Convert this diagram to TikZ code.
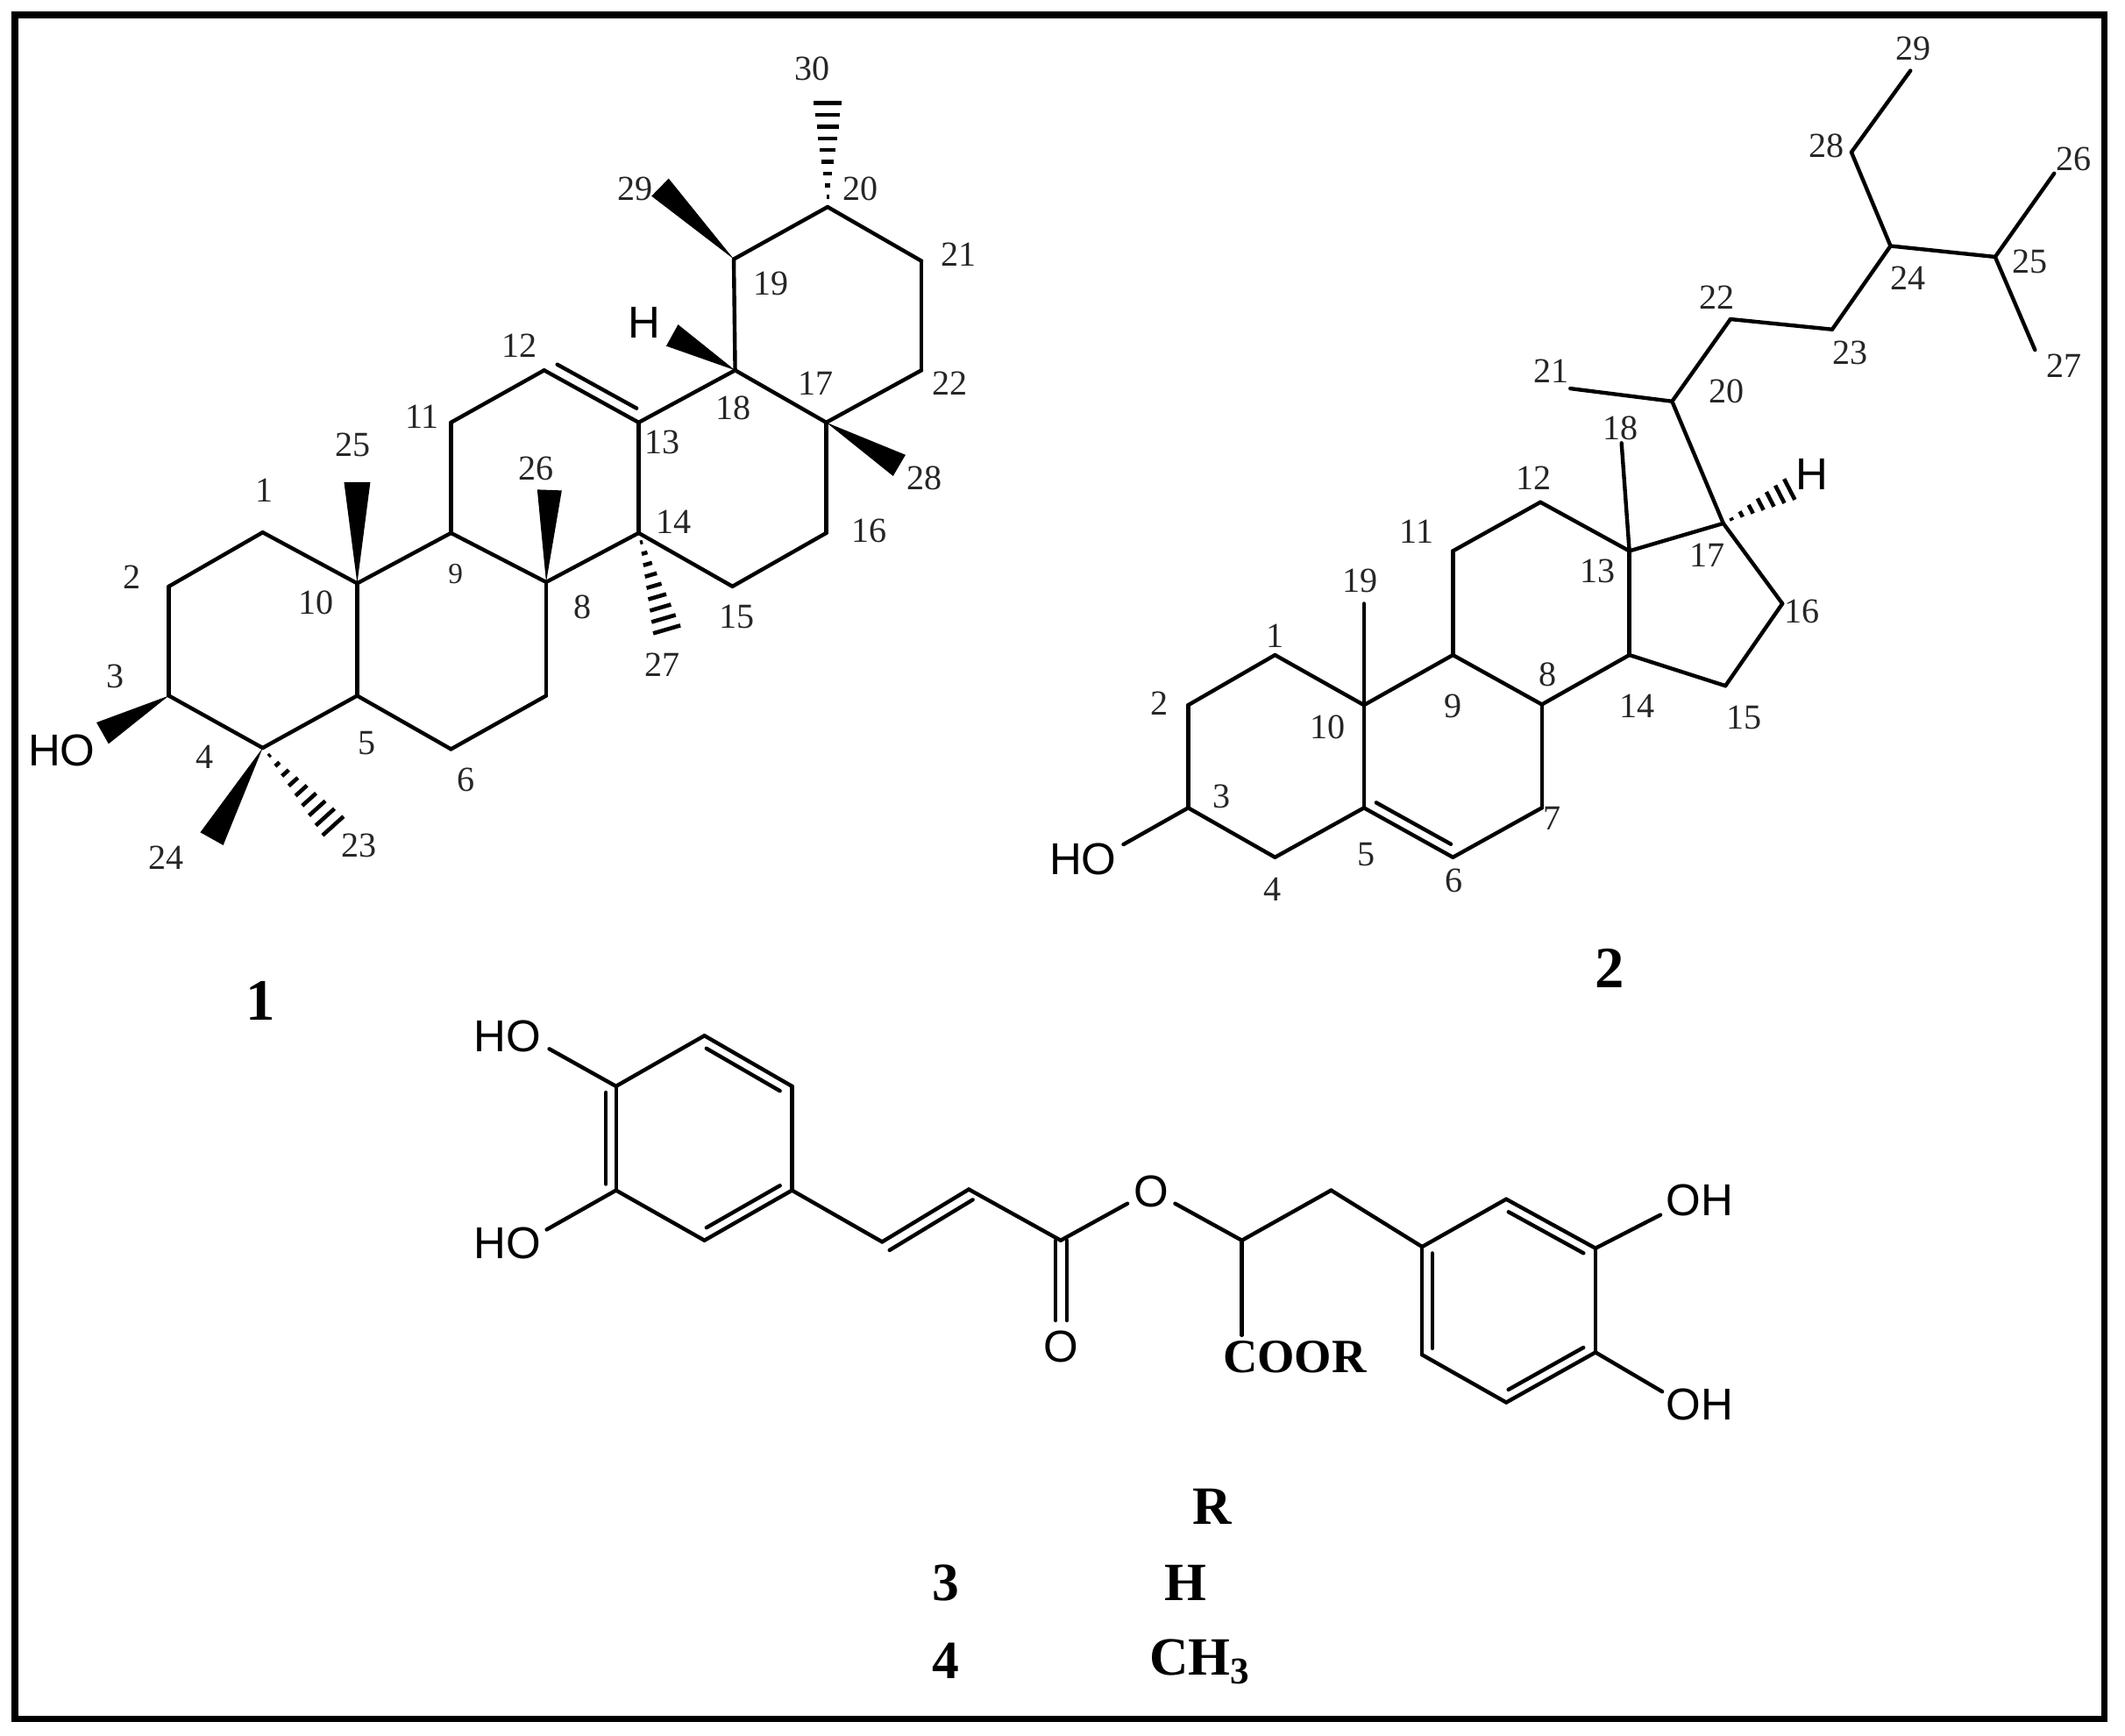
\documentclass[tikz,border=0pt]{standalone}
\usepackage{fontspec}
\setmainfont{Liberation Serif}
\setsansfont{Liberation Sans}
\usetikzlibrary{calc}
\tikzset{
  bond/.style={line width=1.25pt,line cap=round,line join=round,black},
  num/.style={font=\fontsize{11.4}{13}\selectfont,inner sep=0pt,text=black!85},
  smallnum/.style={font=\fontsize{9.5}{11}\selectfont,inner sep=0pt,text=black!85},
  atom/.style={font=\sffamily\fontsize{14.5}{16}\selectfont,inner sep=0pt},
  cpd/.style={font=\bfseries\fontsize{19}{21}\selectfont,inner sep=0pt},
  tab/.style={font=\bfseries\fontsize{17.5}{20}\selectfont,inner sep=0pt},
  coor/.style={font=\bfseries\fontsize{15.5}{18}\selectfont,inner sep=0pt},
}
\newcommand\solidw[3]{\fill[black] (#1) -- ($(#2)!#3!90:(#1)$) -- ($(#2)!#3!-90:(#1)$) -- cycle;}
\newcommand\hashw[4]{%
  \foreach \i in {1,...,#3}{%
    \pgfmathsetmacro\tt{(\i-0.15)/(#3-0.15)}%
    \pgfmathsetmacro\hw{\tt*#4}%
    \draw[line width=1.3pt] ($(#1)!\tt!(#2)!\hw pt!90:(#1)$) -- ($(#1)!\tt!(#2)!\hw pt!-90:(#1)$);
  }}
\newcommand\dblin[4]{\draw[bond] ($(#1)!#4!(#2)!#3!90:(#2)$) -- ($(#2)!#4!(#1)!#3!-90:(#1)$);}
\begin{document}
\begin{tikzpicture}
\useasboundingbox (0,0) rectangle (24.24,-19.79);
\fill[white] (0,0) rectangle (24.24,-19.79);
\draw[line width=2pt,black] (0.17,-0.17) rectangle (24.0,-19.6);

% ---------- compound 1
\begin{scope}[x=0.00765cm,y=-0.00701cm]
\foreach \n/\x/\y in {1/392/867,2/252/955,3/252/1133,4/392/1218,5/533/1133,6/673/1220,7/815/1133,8/815/948,9/673/868,10/533/950,11/673/688,12/812/603,13/953/688,14/953/868,15/1093/955,16/1233/868,17/1233/688,18/1097/603,19/1095/422,20/1235/337,21/1375/425,22/1375/603,23/497/1345,24/316/1366,25/533/785,26/820/798,27/995/1025,28/1342/758,29/985/305,30/1235/168,H/1003/546,O/153/1194}
  \coordinate (A\n) at (\x,\y);
\foreach \a/\b in {1/2,2/3,3/4,4/5,5/10,10/1,10/9,9/8,8/7,7/6,6/5,9/11,11/12,12/13,13/14,14/8,14/15,15/16,16/17,17/18,18/13,18/19,19/20,20/21,21/22,22/17}
  \draw[bond] (A\a) -- (A\b);
\dblin{A12}{A13}{0.13cm}{0.08}
\solidw{A10}{A25}{0.15cm}
\solidw{A8}{A26}{0.14cm}
\solidw{A19}{A29}{0.14cm}
\solidw{A18}{AH}{0.14cm}
\solidw{A17}{A28}{0.14cm}
\solidw{A3}{AO}{0.14cm}
\solidw{A4}{A24}{0.15cm}
\hashw{A20}{A30}{9}{4.6}
\hashw{A14}{A27}{9}{4.6}
\hashw{A4}{A23}{9}{4.6}
\foreach \n/\x/\y in {30/1212/112,29/948/308,20/1284/308,21/1430/415,19/1150/462,12/775/563,17/1217/625,22/1418/625,11/630/678,18/1094/665,13/988/720,25/527/725,26/800/763,28/1380/778,1/395/798,14/1005/850,16/1297/865,2/197/940,10/472/982,8/869/988,15/1100/1005,27/988/1083,3/172/1102,5/547/1210,4/306/1232,6/695/1270,23/536/1377,24/248/1397}
  \node[num] (tA\n) at (\x,\y) {\n};
\node[smallnum] (tA9) at (680,935) {9};
\node[atom] (tAH) at (962,525) {H};
\node[atom] (tAO) at (92,1222) {HO};
\end{scope}
\node[cpd] (cpd1) at (2.97,-11.41) {1};

% ---------- compound 2
\begin{scope}[shift={(11.5cm,0cm)},x=0.008125cm,y=-0.00733cm]
\foreach \n/\x/\y in {1/375/1020,2/253/1098,3/253/1258,4/375/1335,5/500/1258,6/625/1335,7/750/1258,8/750/1097,9/625/1020,10/500/1098,11/625/858,12/748/782,13/873/858,14/873/1020,15/1008/1068,16/1088/940,17/1005/815,18/862/690,19/500/940,20/933/625,21/790/605,22/1015/497,23/1158/513,24/1240/383,25/1387/400,26/1470/270,27/1443/545,28/1185/237,29/1268/110,H/1098/762,O/162/1315}
  \coordinate (B\n) at (\x,\y);
\foreach \a/\b in {1/2,2/3,3/4,4/5,5/10,10/1,10/9,9/8,8/7,7/6,6/5,9/11,11/12,12/13,13/14,14/8,14/15,15/16,16/17,17/13,13/18,10/19,17/20,20/21,20/22,22/23,23/24,24/25,25/26,25/27,24/28,28/29,3/O}
  \draw[bond] (B\a) -- (B\b);
\dblin{B5}{B6}{0.12cm}{0.08}
\hashw{B17}{BH}{7}{3.8}
\foreach \n/\x/\y in {29/1272/75,28/1150/227,26/1497/248,25/1436/408,24/1265/433,22/996/463,23/1183/550,27/1484/570,21/763/578,20/1010/610,18/860/667,12/739/745,11/574/828,17/982/865,13/828/890,19/495/905,16/1116/952,1/375/990,8/758/1050,2/212/1095,9/625/1100,14/884/1100,15/1034/1117,10/449/1132,3/300/1240,7/765/1275,5/503/1330,6/627/1372,4/372/1385}
  \node[num] (tB\n) at (\x,\y) {\n};
\node[atom] (tBH) at (1130,738) {H};
\node[atom] (tBO) at (105,1338) {HO};
\node[cpd] (cpd2) at (845,1508) {2};
\end{scope}

% ---------- compounds 3, 4
\begin{scope}[shift={(5cm,-11cm)},x=0.009885cm,y=-0.005606cm]
\foreach \n/\x/\y in {a/307/145,b/408/248,c/408/460,d/307/562,e/205/460,f/205/248,g/512/565,h/612/458,i/718/562,j/927/562,k/1030/460,l/1135/575,m/1232/478,n/1335/578,o/1335/790,p/1232/892,q/1135/795,hoa/128/172,hob/125/540,oha/1410/510,ohb/1412/870,ea/795/487,eb/850/487,co/718/725,cr/927/755}
  \coordinate (C\n) at (\x,\y);
\foreach \a/\b in {a/b,b/c,c/d,d/e,e/f,f/a,c/g,g/h,h/i,i/ea,eb/j,j/k,k/l,l/m,m/n,n/o,o/p,p/q,q/l,f/hoa,e/hob,n/oha,o/ohb,j/cr}
  \draw[bond] (C\a) -- (C\b);
\dblin{Ca}{Cb}{-0.115cm}{0.08}
\dblin{Ce}{Cf}{0.115cm}{0.06}
\dblin{Cc}{Cd}{-0.115cm}{0.08}
\dblin{Cg}{Ch}{-0.125cm}{0.02}
\dblin{Cm}{Cn}{-0.115cm}{0.08}
\dblin{Cl}{Cq}{0.115cm}{0.06}
\dblin{Co}{Cp}{-0.115cm}{0.08}
\draw[bond] ($(Ci)+(-6,0)$) -- ($(Cco)+(-6,0)$);
\draw[bond] ($(Ci)+(7,0)$) -- ($(Cco)+(7,0)$);
\node[atom] (tha) at (80,147) {HO};
\node[atom] (thb) at (80,567) {HO};
\node[atom] (toa) at (1455,480) {OH};
\node[atom] (tob) at (1455,897) {OH};
\node[atom] (teo) at (823,462) {O};
\node[atom] (tco) at (718,778) {O};
\node[coor] (tcoor) at (988,800) {COOR};
\node[tab] (tR) at (893,1105) {R};
\node[tab] (t3) at (585,1260) {3};
\node[tab] (tH) at (862,1260) {H};
\node[tab] (t4) at (585,1418) {4};
\node[tab,anchor=base west] (tCH) at (820,1448) {CH$_{\mathbf 3}$};
\end{scope}
\end{tikzpicture}
\end{document}
